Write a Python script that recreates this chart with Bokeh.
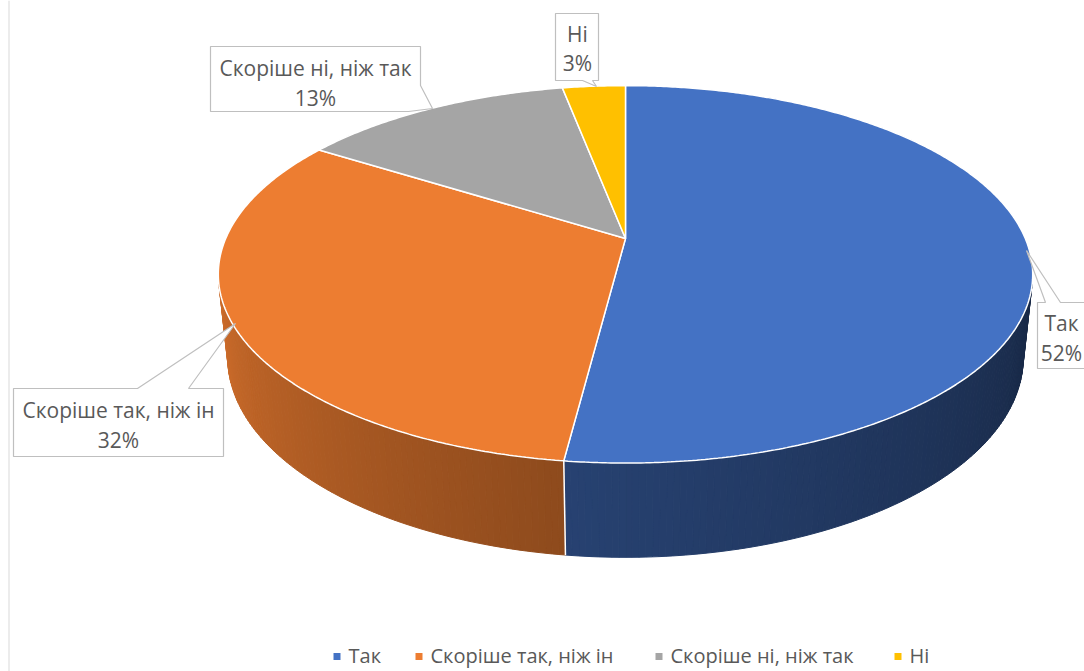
import math
from bokeh.plotting import figure
from bokeh.models import Range1d
from bokeh.core.properties import value
from bokeh.embed import file_html
from bokeh.resources import INLINE

# ---- data ----
categories = ["Так", "Скоріше так, ніж ін", "Скоріше ні, ніж так", "Ні"]
values = [52, 32, 13, 3]
colors = ["#4472C4", "#ED7D31", "#A5A5A5", "#FFC000"]

FONT = "Open Sans"
TXT = "#595959"
FS = "21px"
LFS = "20px"

W, H = 1084, 671
p = figure(width=W, height=H, x_range=Range1d(0, W), y_range=Range1d(H, 0),
           output_backend="svg", toolbar_location=None, min_border=0)
p.axis.visible = False
p.grid.visible = False
p.outline_line_color = None
p.background_fill_color = "white"

# ---- perspective projection of a 3D pie ----
cx, cy = 625.0, 238.0
foc, dist = 1875.0, 4.69
alpha = math.asin(0.455)
sa, ca = math.sin(alpha), math.cos(alpha)
thick = 0.235


def proj(theta, Y=0.0):
    t = math.radians(theta)
    X, Z = math.sin(t), -math.cos(t)
    depth = dist - (Z * ca + Y * sa)
    up = Y * ca - Z * sa
    return cx + foc * X / depth, cy - foc * up / depth


total = float(sum(values))
starts, ends = [], []
acc = 0.0
for v in values:
    starts.append(acc / total * 360.0)
    acc += v
    ends.append(acc / total * 360.0)

# visible side wall range (faces camera when Z > 1/(dist*ca))
zlim = 1.0 / (dist * ca)
vis_lo = math.degrees(math.acos(-zlim))
vis_hi = 360.0 - vis_lo


def hexmix(c, f):
    r, g, b = int(c[1:3], 16), int(c[3:5], 16), int(c[5:7], 16)
    return "#%02x%02x%02x" % (int(r * f), int(g * f), int(b * f))


# shade factors at the two ends of each slice's visible wall
shade = {0: (0.36, 0.58), 1: (0.60, 0.86)}

wxs, wys, wcs = [], [], []
for i in range(len(values)):
    a0, a1 = max(starts[i], vis_lo), min(ends[i], vis_hi)
    if a1 <= a0:
        continue
    f0, f1 = shade.get(i, (0.6, 0.6))
    n = max(2, int((a1 - a0) / 0.8))
    for k in range(n):
        t0 = a0 + (a1 - a0) * k / n
        t1 = a0 + (a1 - a0) * (k + 1) / n
        fr = (k + 0.5) / n
        fct = f0 + (f1 - f0) * fr
        pts = [proj(t0), proj(t1), proj(t1, -thick), proj(t0, -thick)]
        wxs.append([q[0] for q in pts])
        wys.append([q[1] for q in pts])
        wcs.append(hexmix(colors[i], fct))
p.patches(wxs, wys, fill_color=wcs, line_color=wcs, line_width=1.0)

# separator on the wall at slice boundaries that are visible
for b in starts[1:]:
    if vis_lo < b < vis_hi:
        x0, y0 = proj(b)
        x1, y1 = proj(b, -thick)
        p.line([x0, x1], [y0, y1], line_color="white", line_width=1.5)

# top faces
txs, tys = [], []
for i in range(len(values)):
    n = max(4, int((ends[i] - starts[i]) / 0.5))
    pts = [(cx, cy)] + [proj(starts[i] + (ends[i] - starts[i]) * k / n) for k in range(n + 1)]
    txs.append([q[0] for q in pts])
    tys.append([q[1] for q in pts])
p.patches(txs, tys, fill_color=colors, line_color="white", line_width=1.5)

# ---- callout labels ----
callouts = [
    # (polygon, text center x, line1 y, line2 y)
    ([(1037, 302), (1045, 302), (1026, 250), (1060, 302), (1100, 302), (1100, 368), (1037, 368)], 1061, 322, 352),
    ([(13, 388), (137, 388), (235, 323), (188, 388), (223, 388), (223, 456), (13, 456)], 118, 409, 439),
    ([(210, 46), (420, 46), (420, 85), (432, 108), (408, 111), (210, 111)], 315, 67, 97),
    ([(555, 13), (598, 13), (598, 80), (592, 80), (596, 86), (582, 80), (555, 80)], 577, 33, 62),
]
for i, (poly, tx, y1, y2) in enumerate(callouts):
    p.patch([q[0] for q in poly], [q[1] for q in poly], fill_color="white",
            line_color="#BFBFBF", line_width=1.2)
    p.text([tx], [y1], text=[categories[i]], text_align="center", text_baseline="middle",
           text_font=value(FONT), text_font_size=FS, text_color=TXT)
    p.text([tx], [y2], text=["%d%%" % values[i]], text_align="center", text_baseline="middle",
           text_font=value(FONT), text_font_size=FS, text_color=TXT)

# ---- legend ----
leg_x = [333, 415, 655, 894]
leg_y = 655
for i in range(len(values)):
    p.rect([leg_x[i] + 3.5], [leg_y + 1], width=7, height=7, fill_color=colors[i], line_color=None)
    p.text([leg_x[i] + 15], [leg_y], text=[categories[i]], text_align="left", text_baseline="middle",
           text_font=value(FONT), text_font_size=LFS, text_color=TXT)

# chart border on the left
p.line([8.5, 8.5], [0, 671], line_color="#D9D9D9", line_width=1)

open("out.html", "w").write(file_html(p, INLINE))
